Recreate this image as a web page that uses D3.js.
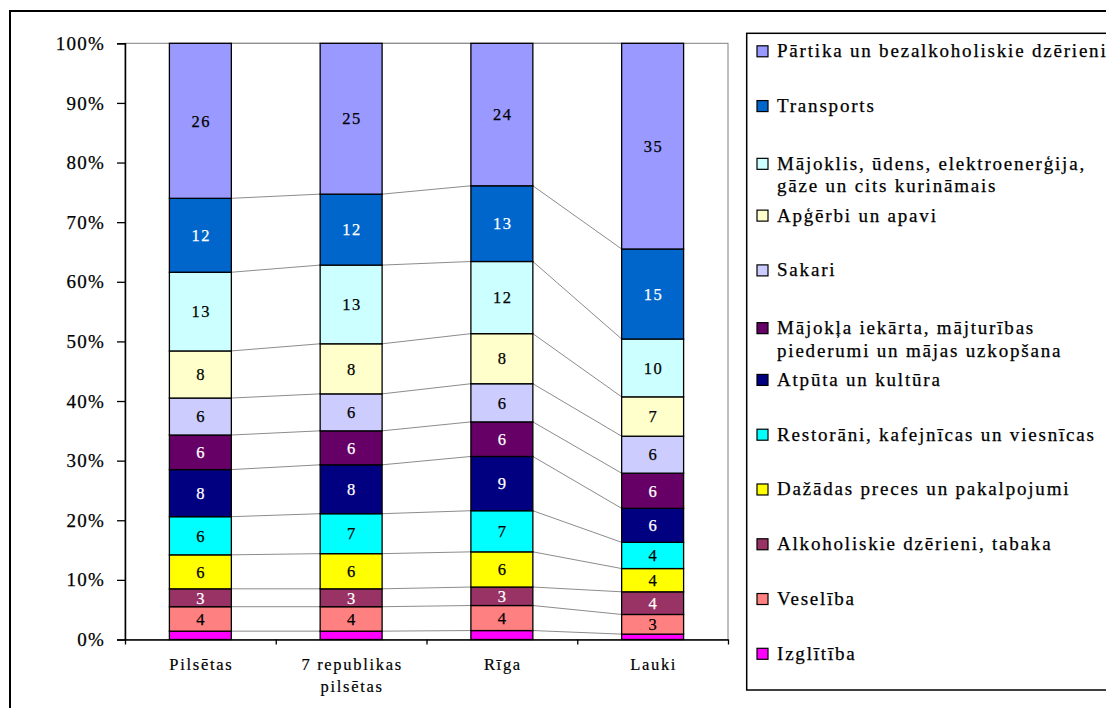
<!DOCTYPE html>
<html>
<head>
<meta charset="utf-8">
<script src="https://cdn.jsdelivr.net/npm/d3@7"></script>
<style>
  html, body { margin: 0; padding: 0; background: #fff; }
  svg { display: block; }
</style>
</head>
<body>
<svg id="chart" width="1106" height="708"></svg>
<script>
// Household consumption expenditure structure, % of total
const categories = ["Pilsētas", "7 republikas\npilsētas", "Rīga", "Lauki"];

// Series in stacking order (bottom to top); values per category
const seriesNames = [
  "Izglītība",
  "Veselība",
  "Alkoholiskie dzērieni, tabaka",
  "Dažādas preces un pakalpojumi",
  "Restorāni, kafejnīcas un viesnīcas",
  "Atpūta un kultūra",
  "Mājokļa iekārta, mājturības\npiederumi un mājas uzkopšana",
  "Sakari",
  "Apģērbi un apavi",
  "Mājoklis, ūdens, elektroenerģija,\ngāze un cits kurināmais",
  "Transports",
  "Pārtika un bezalkoholiskie dzērieni"
];
const seriesColors = [
  "#FF00FF", "#FF8080", "#993366", "#FFFF00", "#00FFFF", "#000080",
  "#660066", "#CCCCFF", "#FFFFCC", "#CCFFFF", "#0066CC", "#9999FF"
];
const labelColors = [
  "#000", "#000", "#fff", "#000", "#000", "#fff",
  "#fff", "#000", "#000", "#000", "#fff", "#000"
];
const showLabel = [false, true, true, true, true, true, true, true, true, true, true, true];

const izglitiba      = [1.4, 1.4, 1.5, 0.9];
const veseliba       = [4.1, 4.1, 4.2, 3.3];
const alkohols       = [3.0, 3.0, 3.1, 3.8];
const dazadas        = [5.7, 5.9, 5.9, 3.9];
const restorani      = [6.4, 6.7, 6.9, 4.4];
const atputa         = [7.9, 8.2, 9.1, 5.7];
const majoklaIekarta = [5.8, 5.7, 5.8, 5.9];
const sakari         = [6.2, 6.2, 6.4, 6.2];
const apgerbi        = [7.9, 8.4, 8.4, 6.6];
const majoklis       = [13.2, 13.2, 12.1, 9.7];
const transports     = [12.4, 11.9, 12.7, 15.1];
const partika        = [26.0, 25.3, 23.9, 34.5];

const seriesValues = [izglitiba, veseliba, alkohols, dazadas, restorani, atputa,
  majoklaIekarta, sakari, apgerbi, majoklis, transports, partika];

const yTicks = [0, 0.1, 0.2, 0.3, 0.4, 0.5, 0.6, 0.7, 0.8, 0.9, 1.0];

const FONT = "'Liberation Serif', 'Times New Roman', serif";

// Table for d3.stack
const table = categories.map((c, i) => {
  const row = { category: c };
  seriesNames.forEach((s, j) => { row[s] = seriesValues[j][i]; });
  return row;
});

const svg = d3.select("#chart").style("font-family", FONT);

// Outer frame
svg.append("rect")
  .attr("x", 10).attr("y", 11).attr("width", 1200).attr("height", 800)
  .attr("fill", "none").attr("stroke", "#000").attr("stroke-width", 2);

const plot = { left: 125, top: 43.3, width: 603, height: 596.2 };

const x = d3.scaleBand()
  .domain(categories)
  .range([plot.left, plot.left + plot.width])
  .paddingInner(0.589).paddingOuter(0.589 / 2);
const xEdge = d3.scaleLinear().domain([0, categories.length]).range([plot.left, plot.left + plot.width]);
const y = d3.scaleLinear().domain([0, 1]).range([plot.top + plot.height, plot.top]);

const stack = d3.stack().keys(seriesNames).offset(d3.stackOffsetExpand);
const stacked = stack(table);

// Plot area border
svg.append("rect")
  .attr("x", plot.left).attr("y", plot.top)
  .attr("width", plot.width).attr("height", plot.height)
  .attr("fill", "none").attr("stroke", "#808080").attr("stroke-width", 1);

// Series lines between adjacent bars
const seriesLines = svg.append("g");
stacked.forEach(layer => {
  for (let i = 0; i < layer.length - 1; i++) {
    const a = layer[i], b = layer[i + 1];
    seriesLines.append("line")
      .attr("x1", x(a.data.category) + x.bandwidth())
      .attr("y1", y(a[1]))
      .attr("x2", x(b.data.category))
      .attr("y2", y(b[1]))
      .attr("stroke", "#8c8c8c").attr("stroke-width", 1);
  }
});

// Bars
const layers = svg.append("g").selectAll("g")
  .data(stacked).join("g")
  .attr("fill", (d, i) => seriesColors[i]);

layers.selectAll("rect")
  .data(d => d).join("rect")
  .attr("x", d => x(d.data.category))
  .attr("y", d => y(d[1]))
  .attr("width", x.bandwidth())
  .attr("height", d => y(d[0]) - y(d[1]))
  .attr("stroke", "#000").attr("stroke-width", 1.3);

// Value labels
stacked.forEach((layer, j) => {
  if (!showLabel[j]) return;
  svg.append("g").selectAll("text")
    .data(layer).join("text")
    .attr("x", d => x(d.data.category) + x.bandwidth() / 2 + 0.8)
    .attr("y", d => (y(d[0]) + y(d[1])) / 2)
    .attr("dy", "0.35em")
    .attr("text-anchor", "middle")
    .style("font-family", FONT)
    .style("font-size", "16.5px")
    .style("letter-spacing", "1.5px")
    .style("fill", labelColors[j])
    .style("stroke", labelColors[j]).style("stroke-width", "0.25px")
    .text((d, i) => Math.round(seriesValues[j][i]));
});

// Y axis
const yAxis = svg.append("g")
  .attr("transform", `translate(${plot.left},0)`)
  .call(d3.axisLeft(y).tickValues(yTicks).tickFormat(d3.format(".0%")).tickSize(8).tickPadding(12));
yAxis.attr("font-family", null);
yAxis.select(".domain").attr("stroke", "#000").attr("stroke-width", 1.5);
yAxis.selectAll(".tick line").attr("stroke", "#000").attr("stroke-width", 1.3);
yAxis.selectAll("text")
  .style("font-family", FONT)
  .style("font-size", "19px").style("letter-spacing", "1.2px")
  .style("stroke", "#000").style("stroke-width", "0.25px")
  .attr("fill", "#000");

// X axis: tick marks at category boundaries
const xAxisTicks = svg.append("g")
  .attr("transform", `translate(0,${plot.top + plot.height})`)
  .call(d3.axisBottom(xEdge).tickValues(d3.range(categories.length + 1)).tickFormat("").tickSize(5).tickSizeOuter(0));
xAxisTicks.select(".domain").attr("stroke", "#000").attr("stroke-width", 1.5);
xAxisTicks.selectAll(".tick line").attr("stroke", "#000").attr("stroke-width", 1.3);

// X axis: category labels
const xAxisLabels = svg.append("g")
  .attr("transform", `translate(0,${plot.top + plot.height})`)
  .call(d3.axisBottom(x).tickSize(0).tickPadding(0));
xAxisLabels.attr("font-family", null);
xAxisLabels.select(".domain").remove();
xAxisLabels.selectAll(".tick text").each(function(d) {
  const t = d3.select(this);
  const lines = d.split("\n");
  t.text(null).attr("y", 0).attr("dy", null)
    .style("font-family", FONT)
    .style("font-size", "16.5px").style("letter-spacing", "1.7px")
    .style("stroke", "#000").style("stroke-width", "0.2px")
    .attr("fill", "#000");
  lines.forEach((ln, k) => {
    t.append("tspan").attr("x", 1).attr("y", 30 + k * 22).text(ln);
  });
});

// Legend
const legend = svg.append("g");
legend.append("rect")
  .attr("x", 746.7).attr("y", 33.3).attr("width", 500).attr("height", 656.7)
  .attr("fill", "none").attr("stroke", "#000").attr("stroke-width", 1.5);

const legendOrder = d3.range(seriesNames.length).reverse();
const legendY = d3.scalePoint().domain(legendOrder).range([51.3, 653.8]);

legendOrder.forEach(j => {
  const lines = seriesNames[j].split("\n");
  const cy = legendY(j) + (lines.length > 1 ? 3 : 0);
  const g = legend.append("g");
  g.append("rect")
    .attr("x", 757).attr("y", cy - 5.5).attr("width", 11).attr("height", 11)
    .attr("fill", seriesColors[j]).attr("stroke", "#000").attr("stroke-width", 1.2);
  const t = g.append("text")
    .style("font-family", FONT)
    .style("font-size", "19px").style("letter-spacing", "1.8px")
    .style("stroke", "#000").style("stroke-width", "0.25px");
  lines.forEach((ln, k) => {
    t.append("tspan").attr("x", 777).attr("y", cy + 6 + k * 22.5).text(ln);
  });
});
</script>
</body>
</html>
